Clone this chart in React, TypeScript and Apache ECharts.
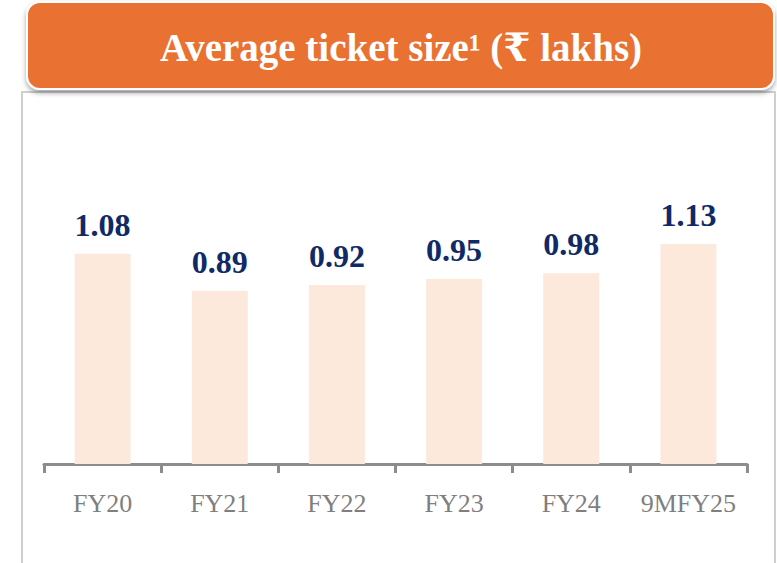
import React, { useEffect, useRef } from "react";
import * as echarts from "echarts";

const categories = ["FY20", "FY21", "FY22", "FY23", "FY24", "9MFY25"];
const values = [1.08, 0.89, 0.92, 0.95, 0.98, 1.13];
const titleText = "Average ticket size¹ (₹ lakhs)";

export default function App() {
  const ref = useRef<HTMLDivElement>(null);
  useEffect(() => {
    if (!ref.current) return;
    const chart = echarts.init(ref.current, null, { renderer: "svg" });
    chart.setOption({
      animation: false,
      backgroundColor: "#ffffff",
      graphic: [
        {
          type: "rect",
          z: -10,
          silent: true,
          shape: { x: 22, y: 92, width: 753, height: 490 },
          style: { fill: "#ffffff", stroke: "#cfcfcf", lineWidth: 2 },
        },
        {
          type: "rect",
          z: 10,
          silent: true,
          shape: { x: 27, y: 2, width: 747, height: 87, r: 13 },
          style: {
            fill: "#E97132",
            stroke: "#ffffff",
            lineWidth: 2,
            shadowColor: "rgba(0,0,0,0.35)",
            shadowBlur: 5,
            shadowOffsetY: 3,
          },
        },
        {
          type: "text",
          z: 11,
          silent: true,
          x: 401,
          y: 47,
          style: {
            text: titleText,
            fill: "#ffffff",
            font: "bold 39px 'Liberation Serif', 'DejaVu Serif', serif",
            align: "center",
            verticalAlign: "middle",
          },
        },
      ],
      grid: { left: 44, right: 30, top: 172, bottom: 99 },
      xAxis: {
        type: "category",
        data: categories,
        axisLine: { show: true, lineStyle: { color: "#8c8c8c", width: 3 } },
        axisTick: { show: true, interval: 0, length: 9, lineStyle: { color: "#8c8c8c", width: 3 } },
        axisLabel: {
          interval: 0,
          color: "#7f7f7f",
          fontSize: 26,
          fontFamily: "'Liberation Serif', serif",
          margin: 26,
        },
      },
      yAxis: {
        type: "value",
        min: 0,
        max: 1.5,
        show: false,
        splitLine: { show: false },
      },
      series: [
        {
          type: "bar",
          data: values,
          barWidth: 56,
          itemStyle: { color: "#FDE9DB" },
          label: {
            show: true,
            position: "top",
            distance: 13,
            color: "#0F2A66",
            fontSize: 32,
            fontWeight: "bold",
            fontFamily: "'Liberation Serif', serif",
            formatter: (p: any) => p.value.toFixed(2),
          },
        },
      ],
    });
    return () => chart.dispose();
  }, []);
  return (
    <div
      ref={ref}
      style={{ position: "fixed", left: 0, top: 0, width: 777, height: 563 }}
    />
  );
}
